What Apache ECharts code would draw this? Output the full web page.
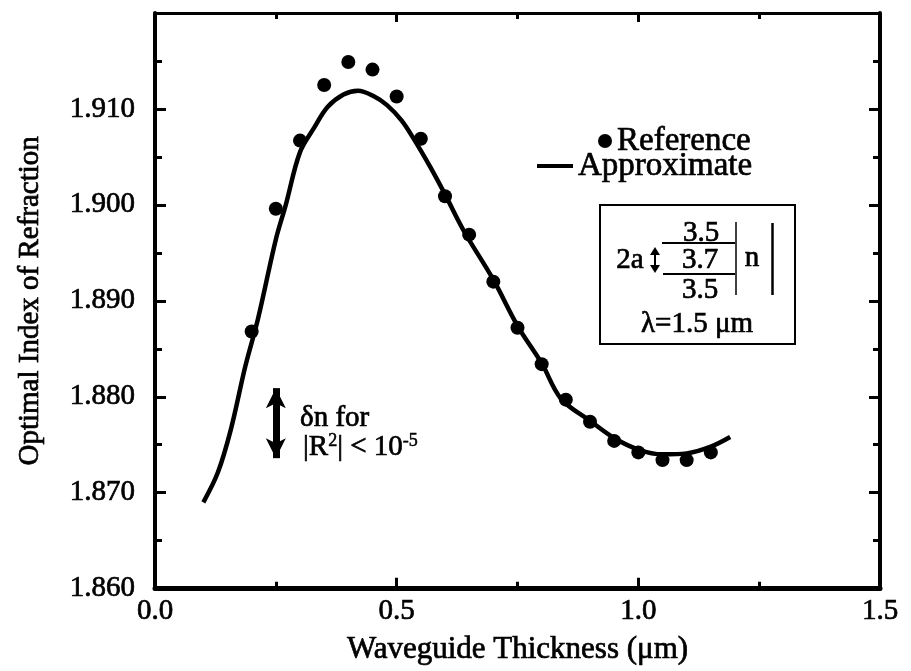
<!DOCTYPE html>
<html><head><meta charset="utf-8">
<script src="https://cdn.jsdelivr.net/npm/echarts@6/dist/echarts.min.js"></script>
<style>html,body{margin:0;padding:0;background:#fff}#c{width:911px;height:671px}</style>
</head><body><div id="c"></div>
<script>
// Reference (dots)
const refX = [0.20,0.25,0.30,0.35,0.40,0.45,0.50,0.55,0.60,0.65,0.70,0.75,0.80,0.85,0.90,0.95,1.00,1.05,1.10,1.15];
const refY = [1.8868,1.8996,1.9067,1.9125,1.9149,1.9141,1.9113,1.9069,1.9009,1.8969,1.8920,1.8872,1.8834,1.8797,1.8774,1.8754,1.8742,1.8734,1.8734,1.8742];
// Approximate (solid curve)
const approxX = [0.10,0.13,0.157,0.187,0.213,0.25,0.27,0.30,0.33,0.357,0.39,0.42,0.45,0.48,0.51,0.535,0.57,0.60,0.64,0.70,0.75,0.80,0.84,0.90,0.95,1.00,1.05,1.10,1.15,1.19];
const approxY = [1.8690,1.8721,1.8766,1.8832,1.8881,1.8964,1.8999,1.9055,1.9081,1.9102,1.9115,1.9119,1.9114,1.9104,1.9088,1.9069,1.9039,1.9011,1.8972,1.8922,1.8874,1.8835,1.8798,1.8775,1.8757,1.8745,1.8740,1.8741,1.8748,1.8758];
// tick labels
const xTickLabels = ['0.0','0.5','1.0','1.5'];
const yTickLabels = ['1.860','1.870','1.880','1.890','1.900','1.910',''];
// delta-n arrow (x, low, high)
const deltaX = [0.25];
const deltaN = [1.8736, 1.8809];

const F = '"Liberation Serif","Times New Roman",serif';
const TB = {textBorderColor:'#000', textBorderWidth:0.7};
const GT = {stroke:'#000', lineWidth:0.7};
const chart = echarts.init(document.getElementById('c'), null, {renderer:'canvas'});

const axisCommon = (w) => ({
  axisLine:{show:true, onZero:false, lineStyle:{color:'#000', width:w}},
  splitLine:{show:false}
});

chart.setOption({
  animation:false,
  backgroundColor:'#fff',
  grid:{left:155, top:13, width:725, height:576, containLabel:false},
  xAxis:[
    Object.assign({
      type:'value', min:0, max:1.5, interval:0.5, position:'bottom',
      axisTick:{show:true, inside:true, length:11, lineStyle:{color:'#000', width:3}},
      minorTick:{show:true, splitNumber:2, length:7, lineStyle:{color:'#000', width:3}},
      axisLabel:Object.assign({margin:8, fontSize:29, color:'#000', fontFamily:F,
        formatter:(v,i)=>xTickLabels[i] !== undefined ? xTickLabels[i] : ''}, TB),
      name:'Waveguide Thickness (μm)', nameLocation:'middle', nameGap:46,
      nameTextStyle:Object.assign({fontSize:31, color:'#000', fontFamily:F}, TB)
    }, axisCommon(5)),
    Object.assign({
      type:'value', min:0, max:1.5, interval:0.5, position:'top',
      axisTick:{show:true, inside:true, length:9, lineStyle:{color:'#000', width:3}},
      minorTick:{show:true, splitNumber:2, length:6, lineStyle:{color:'#000', width:3}},
      axisLabel:{show:false}
    }, axisCommon(3))
  ],
  yAxis:[
    Object.assign({
      type:'value', min:1.86, max:1.92, interval:0.01, position:'left',
      axisTick:{show:true, inside:true, length:11, lineStyle:{color:'#000', width:3}},
      minorTick:{show:true, splitNumber:2, length:7, lineStyle:{color:'#000', width:3}},
      axisLabel:Object.assign({margin:20, fontSize:29, color:'#000', fontFamily:F,
        formatter:(v,i)=>yTickLabels[i] !== undefined ? yTickLabels[i] : ''}, TB),
      name:'Optimal Index of Refraction', nameLocation:'middle', nameGap:110,
      nameTextStyle:Object.assign({fontSize:29, color:'#000', fontFamily:F}, TB)
    }, axisCommon(4)),
    Object.assign({
      type:'value', min:1.86, max:1.92, interval:0.01, position:'right',
      axisTick:{show:true, inside:true, length:11, lineStyle:{color:'#000', width:3}},
      minorTick:{show:true, splitNumber:2, length:7, lineStyle:{color:'#000', width:3}},
      axisLabel:{show:false}
    }, axisCommon(4))
  ],
  legend:[
    {data:[{name:'Reference', icon:'circle'}], left:598, top:124, orient:'vertical', padding:0,
     itemWidth:14, itemHeight:14, selectedMode:false,
     textStyle:Object.assign({fontSize:33, lineHeight:34, color:'#000', fontFamily:F}, TB)},
    {data:[{name:'Approximate', icon:'rect'}], left:537, top:149, orient:'vertical', padding:0,
     itemWidth:36, itemHeight:4, selectedMode:false,
     textStyle:Object.assign({fontSize:33, lineHeight:34, color:'#000', fontFamily:F}, TB)}
  ],
  series:[
    {
      name:'Approximate', type:'line', xAxisIndex:0, yAxisIndex:0,
      data: approxX.map((x,i)=>[x, approxY[i]]),
      smooth:0.35, showSymbol:false, symbol:'none',
      lineStyle:{color:'#000', width:4.5}, itemStyle:{color:'#000'}, z:2,
      markLine:{
        silent:true, animation:false,
        symbol:['arrow','arrow'], symbolSize:[15,20],
        lineStyle:{color:'#000', width:7, type:'solid'},
        label:{show:false},
        data:[[{coord:[deltaX[0], deltaN[0]]},{coord:[deltaX[0], deltaN[1]]}]]
      }
    },
    {
      name:'Reference', type:'scatter', xAxisIndex:0, yAxisIndex:0,
      data: refX.map((x,i)=>[x, refY[i]]),
      symbol:'circle', symbolSize:14, itemStyle:{color:'#000', opacity:1}, z:3
    }
  ],
  graphic:[
    // delta-n annotation text
    {type:'text', x:300, y:418, style:Object.assign({text:'δn for', fontSize:29, fontFamily:F, fill:'#000',
      align:'left', verticalAlign:'middle'}, GT)},
    {type:'text', x:303, y:447, style:{
      text:'{b||R}{s|2}{b|| < 10}{s|-5}',
      align:'left', verticalAlign:'middle',
      rich:{b:{fontSize:29, lineHeight:30, fontFamily:F, fill:'#000', stroke:'#000', lineWidth:0.7},
            s:{fontSize:18, lineHeight:18, fontFamily:F, fill:'#000', stroke:'#000', lineWidth:0.5, verticalAlign:'top'}}
    }},
    // inset box
    {type:'rect', shape:{x:600, y:205, width:195, height:139}, style:{fill:'none', stroke:'#000', lineWidth:2}},
    {type:'text', x:701, y:233, style:Object.assign({text:'3.5', fontSize:29, fontFamily:F, fill:'#000', align:'center', verticalAlign:'middle'}, GT)},
    {type:'line', shape:{x1:662, y1:243, x2:735, y2:243}, style:{stroke:'#000', lineWidth:2}},
    {type:'text', x:700, y:260, style:Object.assign({text:'3.7', fontSize:29, fontFamily:F, fill:'#000', align:'center', verticalAlign:'middle'}, GT)},
    {type:'line', shape:{x1:663, y1:274, x2:735, y2:274}, style:{stroke:'#000', lineWidth:2}},
    {type:'text', x:700, y:290, style:Object.assign({text:'3.5', fontSize:29, fontFamily:F, fill:'#000', align:'center', verticalAlign:'middle'}, GT)},
    {type:'line', shape:{x1:736, y1:222, x2:736, y2:295}, style:{stroke:'#000', lineWidth:1.5}},
    {type:'text', x:752, y:258, style:Object.assign({text:'n', fontSize:29, fontFamily:F, fill:'#000', align:'center', verticalAlign:'middle'}, GT)},
    {type:'line', shape:{x1:772.5, y1:223, x2:772.5, y2:295}, style:{stroke:'#000', lineWidth:2.5}},
    {type:'text', x:630, y:260, style:Object.assign({text:'2a', fontSize:29, fontFamily:F, fill:'#000', align:'center', verticalAlign:'middle'}, GT)},
    {type:'polygon', shape:{points:[[655,247],[650,255],[660,255]]}, style:{fill:'#000'}},
    {type:'line', shape:{x1:655, y1:254, x2:655, y2:266}, style:{stroke:'#000', lineWidth:2}},
    {type:'polygon', shape:{points:[[655,273],[650,265],[660,265]]}, style:{fill:'#000'}},
    {type:'text', x:697, y:324, style:Object.assign({text:'λ=1.5 μm', fontSize:29, fontFamily:F, fill:'#000', align:'center', verticalAlign:'middle'}, GT)}
  ]
});
</script>
</body></html>
